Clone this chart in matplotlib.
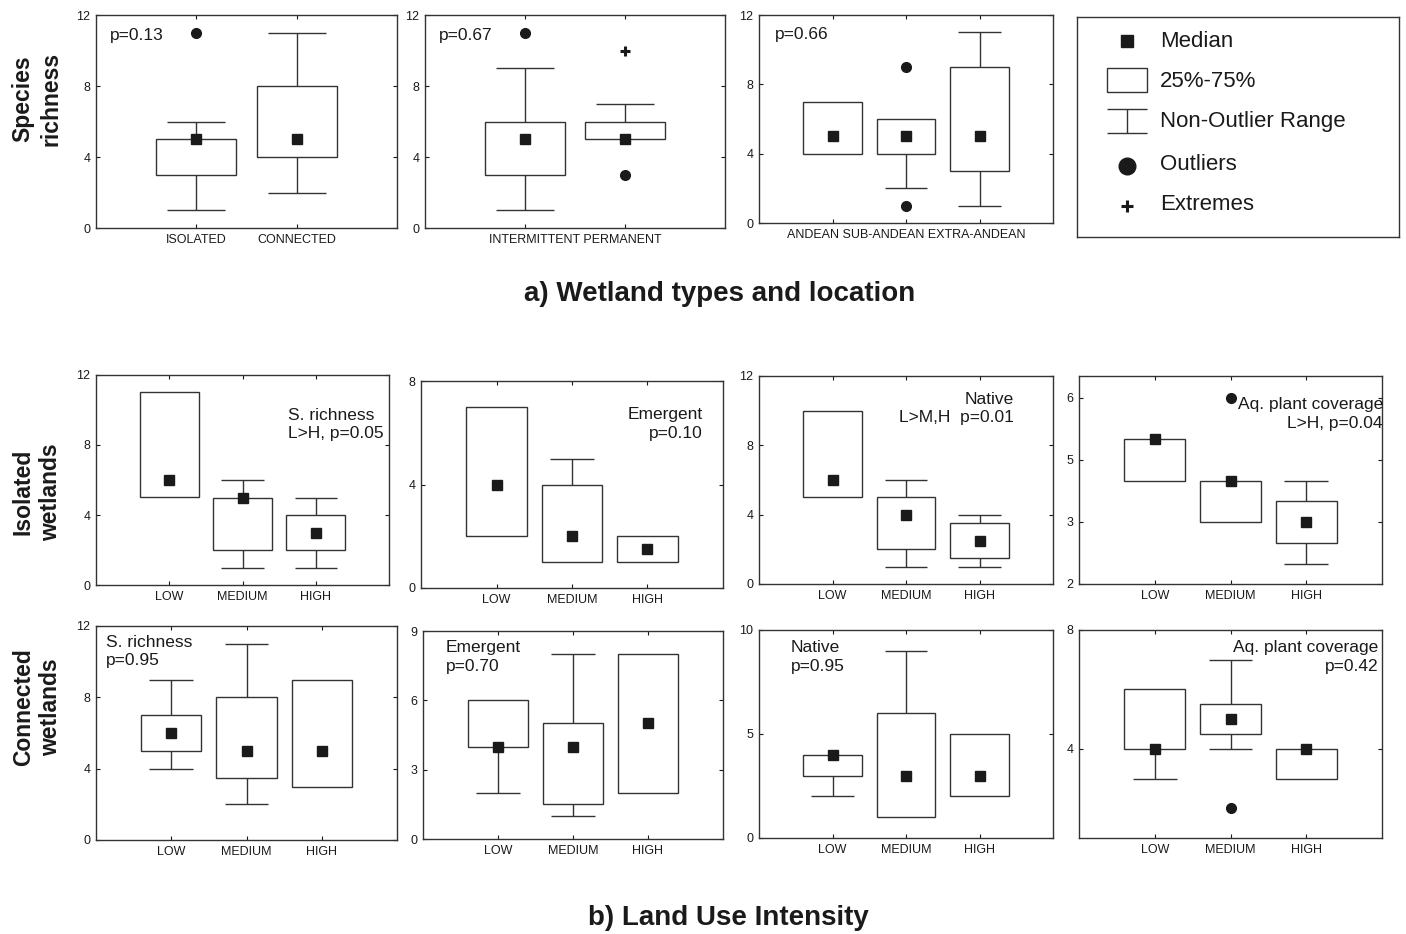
import matplotlib.pyplot as plt

plt.rcParams['font.family'] = ['Liberation Sans', 'DejaVu Sans']

W, H = 1406, 934
ink = '#1a1a1a'
edge = '#333333'

# a) wetland types and location
hydro_labels = ["ISOLATED", "CONNECTED"]
hydro_q1 = [3, 4]
hydro_q3 = [5, 8]
hydro_med = [5, 5]
hydro_lo = [1, 2]
hydro_hi = [6, 11]
hydro_out = [[11], []]

perm_labels = ["INTERMITTENT", "PERMANENT"]
perm_q1 = [3, 5]
perm_q3 = [6, 6]
perm_med = [5, 5]
perm_lo = [1, 5]
perm_hi = [9, 7]
perm_out = [[11], [3]]
perm_ext = [[], [10]]

region_labels = ["ANDEAN", "SUB-ANDEAN", "EXTRA-ANDEAN"]
region_q1 = [4, 4, 3]
region_q3 = [7, 6, 9]
region_med = [5, 5, 5]
region_lo = [4, 2, 1]
region_hi = [7, 6, 11]
region_out = [[], [9, 1], []]

# b) land use intensity
use_labels = ["LOW", "MEDIUM", "HIGH"]

iso_rich_q1 = [5, 2, 2]
iso_rich_q3 = [11, 5, 4]
iso_rich_med = [6, 5, 3]
iso_rich_lo = [5, 1, 1]
iso_rich_hi = [11, 6, 5]

iso_emer_q1 = [2, 1, 1]
iso_emer_q3 = [7, 4, 2]
iso_emer_med = [4, 2, 1.5]
iso_emer_lo = [2, 1, 1]
iso_emer_hi = [7, 5, 2]

iso_nat_q1 = [5, 2, 1.5]
iso_nat_q3 = [10, 5, 3.5]
iso_nat_med = [6, 4, 2.5]
iso_nat_lo = [5, 1, 1]
iso_nat_hi = [10, 6, 4]

iso_cov_q1 = [4.22, 3.33, 2.89]
iso_cov_q3 = [5.11, 4.22, 3.78]
iso_cov_med = [5.11, 4.22, 3.33]
iso_cov_lo = [4.22, 3.33, 2.44]
iso_cov_hi = [5.11, 4.22, 4.22]
iso_cov_out = [[], [6.0], []]
iso_cov_ticks = [2, 3.333, 4.667, 6]
iso_cov_ticklabels = ["2", "3", "5", "6"]

con_rich_q1 = [5, 3.5, 3]
con_rich_q3 = [7, 8, 9]
con_rich_med = [6, 5, 5]
con_rich_lo = [4, 2, 3]
con_rich_hi = [9, 11, 9]

con_emer_q1 = [4, 1.5, 2]
con_emer_q3 = [6, 5, 8]
con_emer_med = [4, 4, 5]
con_emer_lo = [2, 1, 2]
con_emer_hi = [6, 8, 8]

con_nat_q1 = [3, 1, 2]
con_nat_q3 = [4, 6, 5]
con_nat_med = [4, 3, 3]
con_nat_lo = [2, 1, 2]
con_nat_hi = [4, 9, 5]

con_cov_q1 = [4, 4.5, 3]
con_cov_q3 = [6, 5.5, 4]
con_cov_med = [4, 5, 4]
con_cov_lo = [3, 4, 3]
con_cov_hi = [6, 7, 4]
con_cov_out = [[], [2], []]


def px_axes(fig, x0, x1, y0, y1):
    # axes placed by pixel box (left, right, top, bottom)
    return fig.add_axes([x0 / W, 1 - y1 / H, (x1 - x0) / W, (y1 - y0) / H])


def draw_boxes(ax, q1, q3, med, lo, hi, out=None, ext=None):
    pos = list(range(1, len(q1) + 1))
    heights = [b - a for a, b in zip(q1, q3)]
    ax.bar(pos, heights, bottom=q1, width=0.8, color='white',
           edgecolor=edge, linewidth=1, zorder=2)
    for x, a, b, l, h in zip(pos, q1, q3, lo, hi):
        if h > b:
            ax.vlines(x, b, h, color=edge, lw=1, zorder=1)
            ax.hlines(h, x - 0.29, x + 0.29, color=edge, lw=1, zorder=1)
        if l < a:
            ax.vlines(x, l, a, color=edge, lw=1, zorder=1)
            ax.hlines(l, x - 0.29, x + 0.29, color=edge, lw=1, zorder=1)
    ax.plot(pos, med, 's', ms=7, color=ink, zorder=4)
    if out:
        for x, vals in zip(pos, out):
            if vals:
                ax.plot([x] * len(vals), vals, 'o', ms=7, color=ink, zorder=4)
    if ext:
        for x, vals in zip(pos, ext):
            if vals:
                ax.plot([x] * len(vals), vals, '+', ms=7, mew=2.2, color=ink, zorder=4)
    ax.set_xlim(0, len(q1) + 1)
    ax.set_xticks(pos)


def style(ax, ylim, yticks, yticklabels=None):
    ax.set_ylim(*ylim)
    ax.set_yticks(yticks)
    if yticklabels:
        ax.set_yticklabels(yticklabels)
    ax.tick_params(direction='in', length=3, width=0.8, top=True, right=True,
                   labelsize=9, colors=ink, pad=4)
    for s in ax.spines.values():
        s.set_color(edge)
        s.set_linewidth(1)


def note(ax, x, y, s, ha='left'):
    ax.text(x, y, s, transform=ax.transAxes, ha=ha, va='top',
            fontsize=12.5, color=ink, linespacing=1.32, zorder=5)


fig = plt.figure(figsize=(W / 100, H / 100), dpi=100, facecolor='white')

# top row
ax = px_axes(fig, 96, 397, 15, 228)
draw_boxes(ax, hydro_q1, hydro_q3, hydro_med, hydro_lo, hydro_hi, hydro_out)
style(ax, (0, 12), [0, 4, 8, 12])
ax.set_xticklabels(hydro_labels)
note(ax, 0.047, 0.94, "p=0.13")

ax = px_axes(fig, 425, 725, 15, 228)
draw_boxes(ax, perm_q1, perm_q3, perm_med, perm_lo, perm_hi, perm_out, perm_ext)
style(ax, (0, 12), [0, 4, 8, 12])
ax.set_xticklabels([])
ax.annotate(" ".join(perm_labels), (0.5, 0), xycoords='axes fraction',
            xytext=(0, -4), textcoords='offset points', ha='center', va='top',
            fontsize=9, color=ink)
note(ax, 0.047, 0.94, "p=0.67")

ax = px_axes(fig, 759, 1053, 15, 223)
draw_boxes(ax, region_q1, region_q3, region_med, region_lo, region_hi, region_out)
style(ax, (0, 12), [0, 4, 8, 12])
ax.set_xticklabels([])
ax.annotate(" ".join(region_labels), (0.5, 0), xycoords='axes fraction',
            xytext=(0, -4), textcoords='offset points', ha='center', va='top',
            fontsize=9, color=ink)
note(ax, 0.054, 0.94, "p=0.66")

# legend box
lg = px_axes(fig, 1077, 1399, 17, 237)
lg.set_xlim(1077, 1399)
lg.set_ylim(237, 17)
lg.set_xticks([])
lg.set_yticks([])
for s in lg.spines.values():
    s.set_color(edge)
    s.set_linewidth(1)
lg.plot(1127, 41, 's', ms=8.5, color=ink)
lg.add_patch(plt.Rectangle((1107, 68), 40, 24, fc='white', ec=edge, lw=1))
lg.hlines([109, 133], 1107, 1147, color=edge, lw=1)
lg.vlines(1127, 109, 133, color=edge, lw=1)
lg.plot(1127, 166, 'o', ms=12, color=ink)
lg.plot(1127, 206, '+', ms=8, mew=2.2, color=ink)
for yy, s in zip([42, 82, 122, 165, 205],
                 ["Median", "25%-75%", "Non-Outlier Range", "Outliers", "Extremes"]):
    lg.text(1160, yy, s, fontsize=16, color=ink, va='center', ha='left')

fig.text(720 / W, 1 - 294 / H, "a) Wetland types and location", ha='center',
         va='center', fontsize=20, fontweight='bold', color=ink)

# isolated wetlands row
ax = px_axes(fig, 96, 389, 375, 585)
draw_boxes(ax, iso_rich_q1, iso_rich_q3, iso_rich_med, iso_rich_lo, iso_rich_hi)
style(ax, (0, 12), [0, 4, 8, 12])
ax.set_xticklabels(use_labels)
note(ax, 0.655, 0.845, "S. richness\nL>H, p=0.05")

ax = px_axes(fig, 421, 723, 381, 588)
draw_boxes(ax, iso_emer_q1, iso_emer_q3, iso_emer_med, iso_emer_lo, iso_emer_hi)
style(ax, (0, 8), [0, 4, 8])
ax.set_xticklabels(use_labels)
note(ax, 0.934, 0.875, "Emergent\np=0.10", ha='right')

ax = px_axes(fig, 759, 1053, 376, 584)
draw_boxes(ax, iso_nat_q1, iso_nat_q3, iso_nat_med, iso_nat_lo, iso_nat_hi)
style(ax, (0, 12), [0, 4, 8, 12])
ax.set_xticklabels(use_labels)
note(ax, 0.867, 0.925, "Native\nL>M,H  p=0.01", ha='right')

ax = px_axes(fig, 1079, 1382, 376, 584)
draw_boxes(ax, iso_cov_q1, iso_cov_q3, iso_cov_med, iso_cov_lo, iso_cov_hi, iso_cov_out)
style(ax, (2, 6.47), iso_cov_ticks, iso_cov_ticklabels)
ax.set_xticklabels(use_labels)
note(ax, 1.003, 0.9, "Aq. plant coverage\nL>H, p=0.04", ha='right')

# connected wetlands row
ax = px_axes(fig, 96, 397, 626, 840)
draw_boxes(ax, con_rich_q1, con_rich_q3, con_rich_med, con_rich_lo, con_rich_hi)
style(ax, (0, 12), [0, 4, 8, 12])
ax.set_xticklabels(use_labels)
note(ax, 0.033, 0.96, "S. richness\np=0.95")

ax = px_axes(fig, 423, 723, 631, 839)
draw_boxes(ax, con_emer_q1, con_emer_q3, con_emer_med, con_emer_lo, con_emer_hi)
style(ax, (0, 9), [0, 3, 6, 9])
ax.set_xticklabels(use_labels)
note(ax, 0.077, 0.955, "Emergent\np=0.70")

ax = px_axes(fig, 759, 1053, 630, 838)
draw_boxes(ax, con_nat_q1, con_nat_q3, con_nat_med, con_nat_lo, con_nat_hi)
style(ax, (0, 10), [0, 5, 10])
ax.set_xticklabels(use_labels)
note(ax, 0.109, 0.95, "Native\np=0.95")

ax = px_axes(fig, 1079, 1382, 630, 838)
draw_boxes(ax, con_cov_q1, con_cov_q3, con_cov_med, con_cov_lo, con_cov_hi, con_cov_out)
style(ax, (1, 8), [4, 8])
ax.set_xticklabels(use_labels)
note(ax, 0.987, 0.95, "Aq. plant coverage\np=0.42", ha='right')

fig.text(728 / W, 1 - 918 / H, "b) Land Use Intensity", ha='center',
         va='center', fontsize=20, fontweight='bold', color=ink)

# row labels
for yy, s in zip([99, 492, 707],
                 ["Species\nrichness", "Isolated\nwetlands", "Connected\nwetlands"]):
    fig.text(37 / W, 1 - yy / H, s, rotation=90, ha='center', va='center',
             multialignment='center', fontsize=16.5, fontweight='bold',
             color=ink, linespacing=1.25)

fig.savefig('out.png', dpi=100, facecolor='white')
